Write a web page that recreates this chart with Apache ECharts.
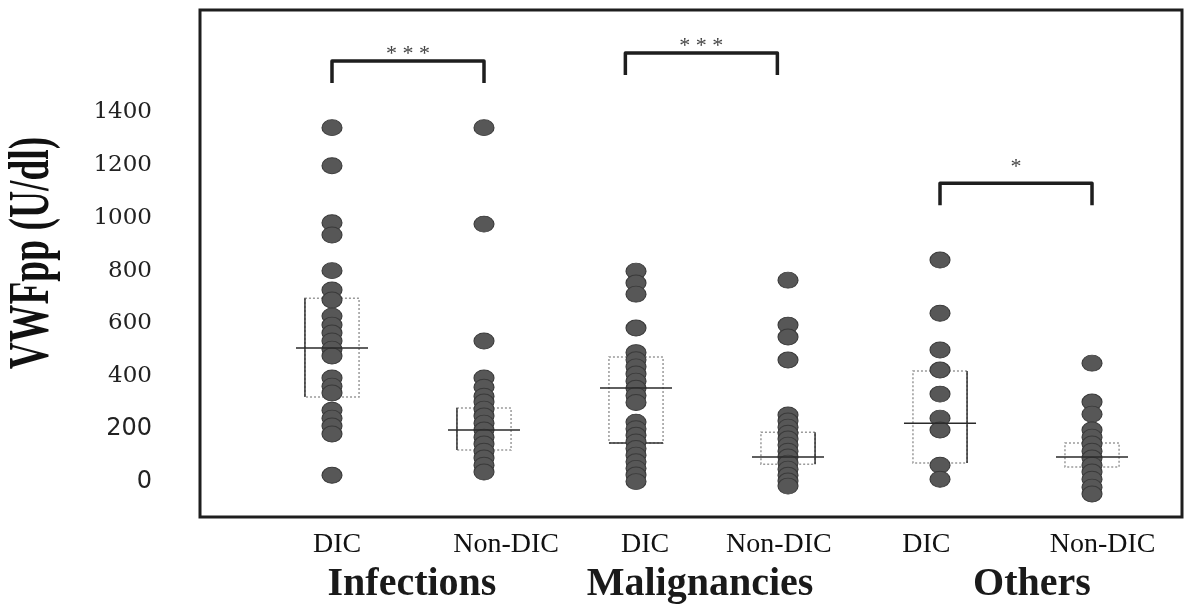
<!DOCTYPE html>
<html>
<head>
<meta charset="utf-8">
<script src="https://cdn.jsdelivr.net/npm/echarts@6/dist/echarts.min.js"></script>
<style>
  html, body { margin: 0; padding: 0; background: #fff; }
  #chart { width: 1184px; height: 606px; }
</style>
</head>
<body>
<div id="chart"></div>
<script>
// data
var groups = ['Infections', 'Malignancies', 'Others'];
var subgroups = ['DIC', 'Non-DIC', 'DIC', 'Non-DIC', 'DIC', 'Non-DIC'];
var yTicks = [0, 200, 400, 600, 800, 1000, 1200, 1400];

var infDic = [1341, 1197, 981, 935, 800, 727, 689, 628, 594, 564, 534, 503, 477, 394, 363, 337, 272, 242, 212, 182, 26];
var infNon = [1341, 976, 534, 394, 359, 325, 303, 276, 250, 223, 197, 170, 144, 117, 91, 64, 38];
var malDic = [798, 753, 711, 583, 490, 463, 436, 409, 382, 355, 328, 301, 227, 202, 177, 152, 127, 102, 77, 52, 27, 2];
var malNon = [764, 594, 549, 462, 254, 231, 208, 185, 163, 140, 117, 95, 72, 49, 26, 4, -15];
var othDic = [840, 639, 500, 424, 333, 242, 197, 64, 11];
var othNon = [450, 303, 257, 197, 170, 144, 117, 91, 64, 38, 11, -19, -45];

// box = dotted range, line = centre value
var boxLow = [322, 121, 148, 68, 72, 57];
var boxHigh = [696, 280, 473, 189, 420, 148];
var boxMid = [507, 197, 356, 95, 223, 95];

// significance brackets
var sigFrom = [1, 2.93, 5];
var sigTo = [2, 3.93, 6];
var sigTop = [1593, 1623, 1131];
var sigText = ['* * *', '* * *', '*'];

var columns = [infDic, infNon, malDic, malNon, othDic, othNon];
var dots = [];
columns.forEach(function (vals, i) {
    vals.forEach(function (v) { dots.push([i + 1, v]); });
});
var boxes = boxLow.map(function (lo, i) { return [i + 1, lo, boxHigh[i], boxMid[i]]; });
var brackets = sigFrom.map(function (f, i) { return [f, sigTo[i], sigTop[i]]; });

// layout bits
var subLabelAt = [1.033, 2.145, 3.06, 3.94, 4.91, 6.07];
var groupLabelAt = [1.526, 3.421, 5.605];
var solidSide = ['left', 'left', 'bottom', 'right', 'right', ''];
var sigGap = [11, 11, 20];
var BOX_HALF = 0.178, MID_HALF = 0.237;

function nearest(arr, v) {
    var best = 0;
    arr.forEach(function (a, i) { if (Math.abs(a - v) < Math.abs(arr[best] - v)) best = i; });
    return best;
}

var myChart = echarts.init(document.getElementById('chart'), null, { renderer: 'canvas' });
var option = {
    animation: false,
    backgroundColor: '#fff',
    grid: {
        left: 200, right: 2, top: 10, bottom: 89,
        show: true,
        borderColor: '#1e1e1e',
        borderWidth: 3
    },
    xAxis: [{
        type: 'value',
        min: 0.1316,
        max: 6.592,
        axisLine: { show: false },
        axisTick: { show: false },
        splitLine: { show: false },
        axisLabel: {
            customValues: subLabelAt,
            margin: 14,
            fontFamily: 'Liberation Serif',
            fontSize: 28,
            color: '#111',
            formatter: function (v) { return subgroups[nearest(subLabelAt, v)]; }
        }
    }, {
        type: 'value',
        position: 'bottom',
        offset: 42,
        min: 0.1316,
        max: 6.592,
        axisLine: { show: false },
        axisTick: { show: false },
        splitLine: { show: false },
        axisLabel: {
            customValues: groupLabelAt,
            margin: 6,
            fontFamily: 'Liberation Serif',
            fontWeight: 'bold',
            fontSize: 40,
            color: '#1a1a1a',
            formatter: function (v) { return groups[nearest(groupLabelAt, v)]; }
        }
    }],
    yAxis: {
        type: 'value',
        min: -132,
        max: 1786,
        axisLine: { show: false },
        axisTick: { show: false },
        splitLine: { show: false },
        axisLabel: {
            customValues: yTicks,
            margin: 48,
            formatter: function (v) { return (v <= 200 ? '{s|' : '{r|') + v + '}'; },
            rich: {
                s: { fontFamily: 'DejaVu Sans', fontSize: 24, color: '#222' },
                r: { fontFamily: 'DejaVu Serif', fontSize: 23, color: '#222' }
            }
        }
    },
    graphic: [{
        type: 'text',
        x: 34,
        y: 253,
        rotation: Math.PI / 2,
        scaleX: 0.67,
        style: {
            text: 'VWFpp (U/dl)',
            font: 'bold 56px "Liberation Serif"',
            fill: '#111',
            align: 'center',
            verticalAlign: 'middle'
        }
    }],
    series: [{
        // dotted boxes
        type: 'custom',
        z: 1,
        data: boxes,
        encode: { x: 0, y: [1, 2] },
        renderItem: function (params, api) {
            var x = api.value(0);
            var tl = api.coord([x - BOX_HALF, api.value(2)]);
            var br = api.coord([x + BOX_HALF, api.value(1)]);
            var kids = [{
                type: 'rect',
                shape: { x: tl[0], y: tl[1], width: br[0] - tl[0], height: br[1] - tl[1] },
                style: { fill: 'none', stroke: '#9a9a9a', lineWidth: 1.5, lineDash: [2, 2] }
            }];
            var side = solidSide[params.dataIndex], p = null;
            if (side === 'left') p = [tl[0], tl[1], tl[0], br[1]];
            if (side === 'right') p = [br[0], tl[1], br[0], br[1]];
            if (side === 'bottom') p = [tl[0], br[1], br[0], br[1]];
            if (p) {
                kids.push({
                    type: 'line',
                    shape: { x1: p[0], y1: p[1], x2: p[2], y2: p[3] },
                    style: { stroke: '#333', lineWidth: 1.5 }
                });
            }
            return { type: 'group', children: kids };
        }
    }, {
        type: 'scatter',
        z: 2,
        data: dots,
        symbol: 'circle',
        symbolSize: [20, 16],
        itemStyle: { color: '#575757', borderColor: '#3a3a3a', borderWidth: 1, opacity: 1 }
    }, {
        // centre lines
        type: 'custom',
        z: 3,
        data: boxes,
        encode: { x: 0, y: 3 },
        renderItem: function (params, api) {
            var x = api.value(0);
            var a = api.coord([x - MID_HALF, api.value(3)]);
            var b = api.coord([x + MID_HALF, api.value(3)]);
            return {
                type: 'line',
                shape: { x1: a[0], y1: a[1], x2: b[0], y2: b[1] },
                style: { stroke: '#2a2a2a', lineWidth: 1.5 }
            };
        }
    }, {
        // significance brackets
        type: 'custom',
        z: 4,
        data: brackets,
        encode: { x: [0, 1], y: 2 },
        renderItem: function (params, api) {
            var a = api.coord([api.value(0), api.value(2)]);
            var b = api.coord([api.value(1), api.value(2)]);
            return {
                type: 'group',
                children: [{
                    type: 'polyline',
                    shape: { points: [[a[0], a[1] + 22], [a[0], a[1]], [b[0], b[1]], [b[0], b[1] + 22]] },
                    style: { fill: 'none', stroke: '#1e1e1e', lineWidth: 3.5, lineJoin: 'round' }
                }, {
                    type: 'text',
                    x: (a[0] + b[0]) / 2,
                    y: a[1] - sigGap[params.dataIndex] + 4,
                    style: {
                        text: sigText[params.dataIndex],
                        fontFamily: 'Liberation Serif',
                        fontSize: 22,
                        fill: '#444',
                        align: 'center',
                        verticalAlign: 'middle'
                    }
                }]
            };
        }
    }]
};
myChart.setOption(option);
window.addEventListener('resize', function () {
    myChart.resize();
});
</script>
</body>
</html>
